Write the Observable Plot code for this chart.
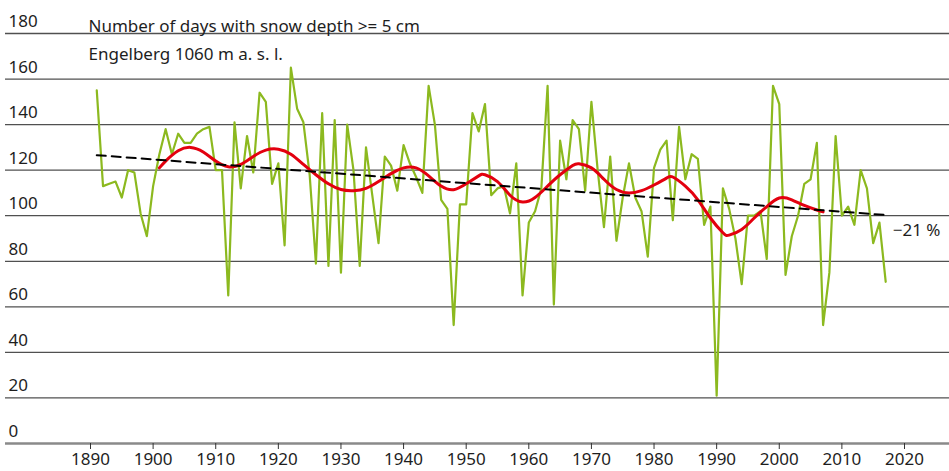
<!DOCTYPE html>
<html>
<head>
<meta charset="utf-8">
<script src="https://cdn.jsdelivr.net/npm/d3@7"></script>
<script src="https://cdn.jsdelivr.net/npm/@observablehq/plot@0.6"></script>
<style>
  html, body { margin: 0; padding: 0; background: #fff; }
  #chart { width: 949px; height: 471px; }
</style>
</head>
<body>
<div id="chart"></div>
<script>
// ---- Data ----
const firstYear = 1891;
const snowDays = [
  155, 113, 114, 115, 108, 120, 119, 101, 91, 113,      // 1891-1900
  127, 138, 127, 136, 132, 132, 136, 138, 139, 120,     // 1901-1910
  120, 65, 141, 112, 135, 119, 154, 150, 114, 123,      // 1911-1920
  87, 165, 147, 141, 118, 79, 145, 78, 142, 75,         // 1921-1930
  140, 120, 78, 130, 109, 88, 126, 122, 111, 131,       // 1931-1940
  123, 117, 110, 157, 140, 107, 103, 52, 105, 105,      // 1941-1950
  145, 137, 149, 109, 112, 113, 101, 123, 65, 97,       // 1951-1960
  102, 112, 157, 61, 133, 116, 142, 138, 111, 150,      // 1961-1970
  120, 95, 126, 89, 108, 123, 108, 102, 82, 121,        // 1971-1980
  129, 133, 98, 139, 116, 127, 125, 96, 104, 21,        // 1981-1990
  112, 103, 90, 70, 100, 100, 102, 81, 157, 149,        // 1991-2000
  74, 91, 100, 114, 116, 132, 52, 75, 135, 100,         // 2001-2010
  104, 96, 120, 112, 88, 97, 71                         // 2011-2017
];

const smoothYears = [1901, 1902, 1904, 1906, 1908, 1910, 1912, 1914, 1916, 1918, 1920,
  1922, 1924, 1926, 1928, 1930, 1932, 1934, 1936, 1938, 1940, 1942, 1944, 1946, 1948,
  1950, 1952, 1953, 1955, 1957, 1959, 1961, 1963, 1965, 1967, 1968, 1970, 1972, 1974,
  1976, 1978, 1980, 1982, 1983, 1985, 1987, 1989, 1991, 1992, 1994, 1996, 1998, 2000,
  2002, 2004, 2006, 2007];
const smoothValues = [121, 124, 128.5, 130, 128, 124, 121.5, 122.5, 126, 128.8, 129.2,
  127, 122.5, 118, 114, 111.5, 111, 112, 115, 118.5, 121, 121, 117.5, 113, 111.4,
  114, 117.5, 118, 115, 109, 106, 108, 113, 118, 122, 122.8, 121, 116, 111.5,
  110, 111, 113.5, 116.5, 117, 113, 107, 99, 92.5, 91.5, 94, 99, 104, 107.8,
  107, 104.5, 102.5, 101.7];

const trendYears = [1891, 2017];
const trendValues = [126.6, 100.3];

const yTicks = [0, 20, 40, 60, 80, 100, 120, 140, 160, 180];
const xTicks = [1890, 1900, 1910, 1920, 1930, 1940, 1950, 1960, 1970, 1980, 1990, 2000, 2010, 2020];

const titleLines = ["Number of days with snow depth >= 5 cm", "Engelberg 1060 m a. s. l."];
const trendLabel = "\u221221 %";

// ---- Tables ----
const snow = snowDays.map((v, i) => ({year: firstYear + i, days: v}));
const smooth = smoothYears.map((y, i) => ({year: y, days: smoothValues[i]}));
const trend = trendYears.map((y, i) => ({year: y, days: trendValues[i]}));

const textColor = "#1e1e1e";
const font = "'Noto Sans', 'Open Sans', sans-serif";

const chart = Plot.plot({
  width: 949,
  height: 471,
  marginLeft: 5,
  marginRight: 0,
  marginTop: 33,
  marginBottom: 28,
  x: {domain: [1890, 2020], range: [90, 904], axis: null, label: null},
  y: {domain: [0, 180], range: [443, 33], axis: null, label: null},
  style: {fontFamily: font, fontSize: "17px", background: "white", color: textColor, overflow: "visible"},
  marks: [
    Plot.ruleY(yTicks.filter(d => d > 0), {y: d => d, stroke: "#505050", strokeWidth: 1.3}),
    Plot.ruleY([0], {y: d => d, stroke: "#8a8a8a", strokeWidth: 2.5}),
    Plot.axisX({ticks: xTicks, tickSize: 6, tickPadding: 3, tickFormat: d => String(d), label: null,
      stroke: "#333", fill: textColor, fontSize: 17}),
    Plot.text(yTicks, {y: d => d, text: d => String(d), frameAnchor: "left", textAnchor: "start",
      dx: 3, dy: -12, fill: textColor, fontSize: 17}),
    Plot.text([titleLines[0]], {text: d => d, frameAnchor: "top-left", textAnchor: "start",
      dx: 83, dy: -14, fill: textColor, fontSize: 17}),
    Plot.text([titleLines[1]], {text: d => d, frameAnchor: "top-left", textAnchor: "start",
      dx: 83, dy: 14, fill: textColor, fontSize: 17}),
    Plot.line(snow, {x: "year", y: "days", stroke: "#8cb91f", strokeWidth: 2.2}),
    Plot.line(smooth, {x: "year", y: "days", stroke: "#e3000f", strokeWidth: 3, curve: "natural"}),
    Plot.line(trend, {x: "year", y: "days", stroke: "#000", strokeWidth: 2, strokeDasharray: "9,6"}),
    Plot.text([trend[trend.length - 1]], {x: "year", y: "days", text: () => trendLabel,
      textAnchor: "start", dx: 7, dy: 16, fill: textColor, fontSize: 17})
  ]
});

document.getElementById("chart").appendChild(chart);
</script>
</body>
</html>
